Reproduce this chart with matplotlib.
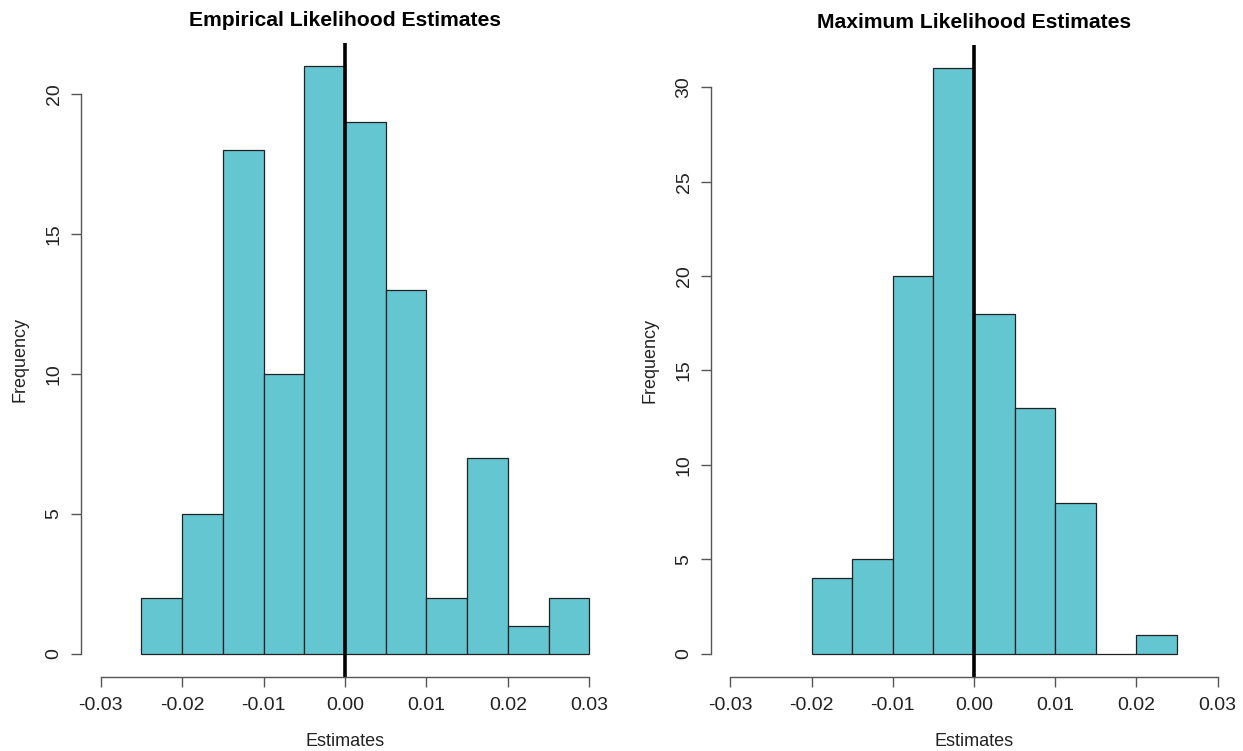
import numpy as np
import matplotlib.pyplot as plt

plt.rcParams['font.family'] = ['Liberation Sans', 'DejaVu Sans']

# Histogram bins (edges) and counts
el_breaks = [-0.025, -0.02, -0.015, -0.01, -0.005, 0.0, 0.005, 0.01, 0.015, 0.02, 0.025, 0.03]
el_counts = [2, 5, 18, 10, 21, 19, 13, 2, 7, 1, 2]

ml_breaks = [-0.02, -0.015, -0.01, -0.005, 0.0, 0.005, 0.01, 0.015, 0.02, 0.025]
ml_counts = [4, 5, 20, 31, 18, 13, 8, 0, 1]

x_ticks = [-0.03, -0.02, -0.01, 0.00, 0.01, 0.02, 0.03]
fill = '#63c6d0'

W, H = 1243, 751
fig = plt.figure(figsize=(W / 100, H / 100), dpi=100)


def panel(rect, breaks, counts, yticks, title):
    ax = fig.add_axes([rect[0] / W, 1 - rect[3] / H, (rect[2] - rect[0]) / W, (rect[3] - rect[1]) / H])
    b = np.array(breaks)
    ax.bar(b[:-1], counts, width=np.diff(b), align='edge', color=fill,
           edgecolor='#222222', linewidth=0.9)
    ax.axvline(0, color='black', linewidth=2.6)
    top = max(counts)
    ax.set_xlim(-0.03 - 0.0024, 0.03 + 0.0024)
    ax.set_ylim(-0.04 * top, top * 1.04)
    for s in ['top', 'right']:
        ax.spines[s].set_visible(False)
    ax.spines['left'].set_bounds(yticks[0], yticks[-1])
    ax.spines['bottom'].set_bounds(x_ticks[0], x_ticks[-1])
    for s in ['left', 'bottom']:
        ax.spines[s].set_color('#555555')
        ax.spines[s].set_linewidth(1.0)
    ax.set_xticks(x_ticks)
    ax.set_xticklabels(['%.2f' % t for t in x_ticks])
    ax.set_yticks(yticks)
    ax.set_yticklabels([str(t) for t in yticks], rotation=90, va='center')
    ax.tick_params(direction='out', length=7.2, width=1.0, color='#555555',
                   labelsize=14, labelcolor='#222222')
    ax.tick_params(axis='x', pad=7)
    ax.tick_params(axis='y', pad=6)
    ax.set_xlabel('Estimates', fontsize=13, labelpad=14, color='#222222')
    ax.set_ylabel('Frequency', fontsize=13, labelpad=12, color='#222222')
    ax.set_title(title, fontsize=15.2, fontweight='bold', pad=12)
    return ax


panel((81, 43, 609, 677), el_breaks, el_counts, [0, 5, 10, 15, 20],
      'Empirical Likelihood Estimates')
panel((711, 45, 1237, 677), ml_breaks, ml_counts, [0, 5, 10, 15, 20, 25, 30],
      'Maximum Likelihood Estimates')

fig.savefig('out.png', dpi=100)
